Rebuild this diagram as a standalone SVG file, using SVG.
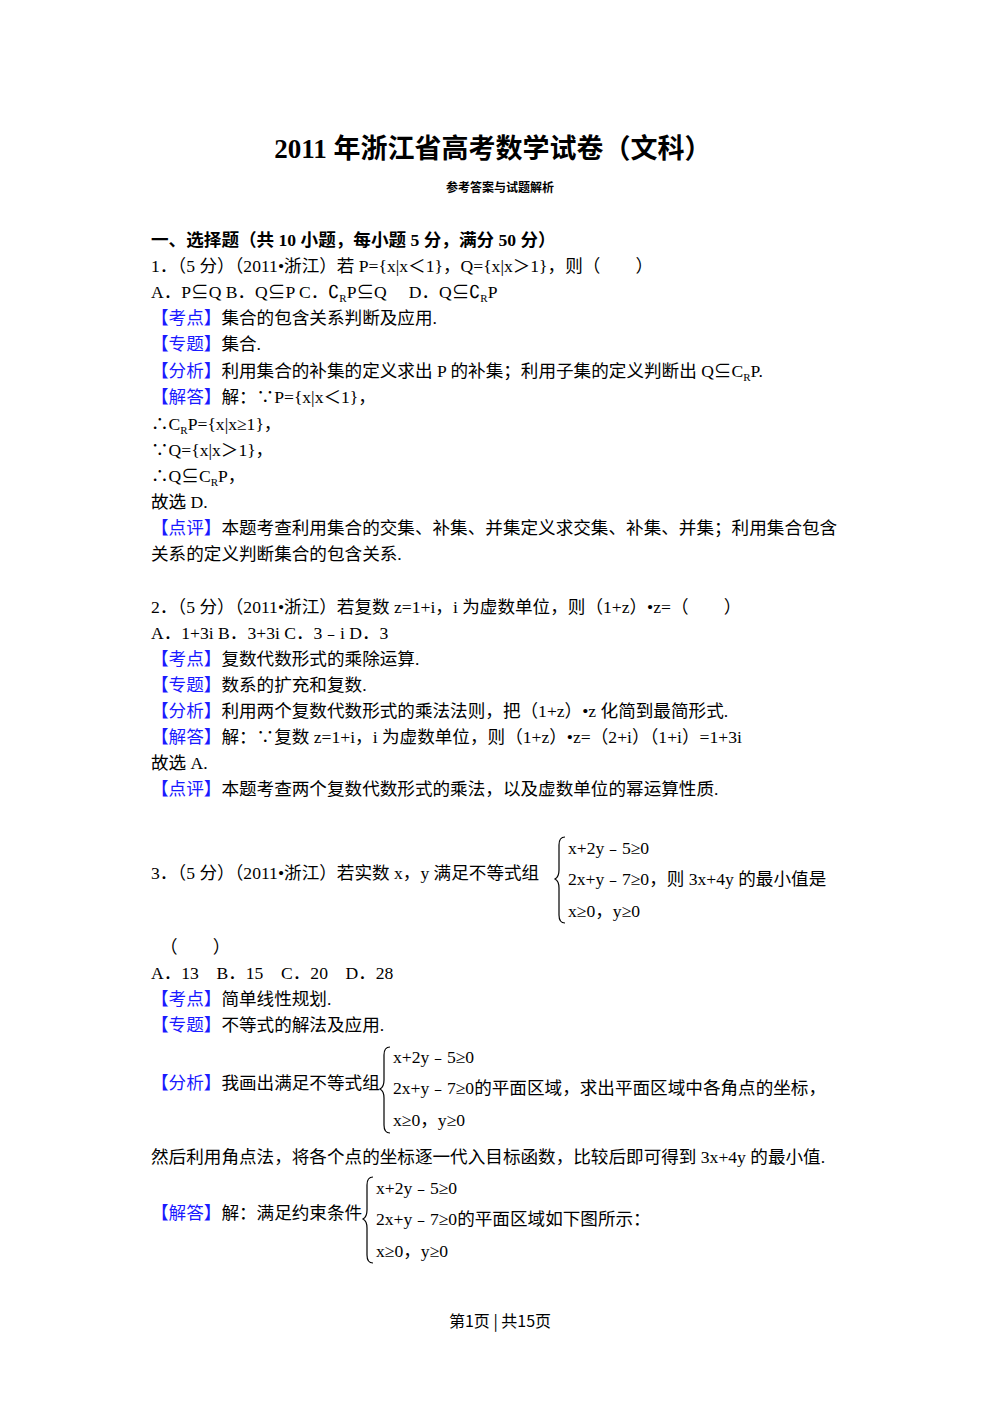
<svg xmlns="http://www.w3.org/2000/svg" width="1000" height="1414" viewBox="0 0 1000 1414">
<style>
text{font-family:"Liberation Serif","Noto Sans CJK SC",serif;font-size:17.6px;fill:#000}
.b{fill:#1a1aff}
.t{font-size:27px;font-weight:bold}
.st{font-size:12px;font-weight:bold}
.h{font-weight:bold}
.br{fill:none;stroke:#000;stroke-width:1.2}
</style>
<rect width="1000" height="1414" fill="#fff"/>
<text class="t" x="493" y="158" text-anchor="middle">2011 年浙江省高考数学试卷（文科）</text>
<text class="st" x="500" y="192" text-anchor="middle">参考答案与试题解析</text>
<text class="h" x="151" y="246">一、选择题（共 10 小题，每小题 5 分，满分 50 分）</text>
<text x="151" y="272">1．（5 分）（2011•浙江）若 P={x|x＜1}，Q={x|x＞1}，则（　　）</text>
<text x="151" y="298">A．P⊆Q B．Q⊆P C．∁<tspan font-size="11" dy="4">R</tspan><tspan dy="-4">P⊆Q　 D．Q⊆∁</tspan><tspan font-size="11" dy="4">R</tspan><tspan dy="-4">P</tspan></text>
<text x="151" y="324"><tspan class="b">【考点】</tspan>集合的包含关系判断及应用.</text>
<text x="151" y="350"><tspan class="b">【专题】</tspan>集合.</text>
<text x="151" y="377"><tspan class="b">【分析】</tspan>利用集合的补集的定义求出 P 的补集；利用子集的定义判断出 Q⊆C<tspan font-size="11" dy="4">R</tspan><tspan dy="-4">P.</tspan></text>
<text x="151" y="403"><tspan class="b">【解答】</tspan>解：∵P={x|x＜1}，</text>
<text x="151" y="430">∴C<tspan font-size="11" dy="4">R</tspan><tspan dy="-4">P={x|x≥1}，</tspan></text>
<text x="151" y="456">∵Q={x|x＞1}，</text>
<text x="151" y="482">∴Q⊆C<tspan font-size="11" dy="4">R</tspan><tspan dy="-4">P，</tspan></text>
<text x="151" y="508">故选 D.</text>
<text x="151" y="534"><tspan class="b">【点评】</tspan>本题考查利用集合的交集、补集、并集定义求交集、补集、并集；利用集合包含</text>
<text x="151" y="560">关系的定义判断集合的包含关系.</text>
<text x="151" y="613">2．（5 分）（2011•浙江）若复数 z=1+i，i 为虚数单位，则（1+z）•z=（　　）</text>
<text x="151" y="639">A．1+3i B．3+3i C．3﹣i D．3</text>
<text x="151" y="665"><tspan class="b">【考点】</tspan>复数代数形式的乘除运算.</text>
<text x="151" y="691"><tspan class="b">【专题】</tspan>数系的扩充和复数.</text>
<text x="151" y="717"><tspan class="b">【分析】</tspan>利用两个复数代数形式的乘法法则，把（1+z）•z 化简到最简形式.</text>
<text x="151" y="743"><tspan class="b">【解答】</tspan>解：∵复数 z=1+i，i 为虚数单位，则（1+z）•z=（2+i）（1+i）=1+3i</text>
<text x="151" y="769">故选 A.</text>
<text x="151" y="795"><tspan class="b">【点评】</tspan>本题考查两个复数代数形式的乘法，以及虚数单位的幂运算性质.</text>
<text x="151" y="879">3．（5 分）（2011•浙江）若实数 x，y 满足不等式组</text>
<path class="br" d="M565,837 Q559,837 559,845 L559,870 Q559,877 555,879 Q559,881 559,888 L559,915 Q559,923 565,923"/>
<text x="568" y="854">x+2y﹣5≥0</text>
<text x="568" y="885">2x+y﹣7≥0，则 3x+4y 的最小值是</text>
<text x="568" y="917">x≥0，y≥0</text>
<text x="160" y="953">（　　）</text>
<text x="151" y="979">A．13　B．15　C．20　D．28</text>
<text x="151" y="1005"><tspan class="b">【考点】</tspan>简单线性规划.</text>
<text x="151" y="1031"><tspan class="b">【专题】</tspan>不等式的解法及应用.</text>
<text x="151" y="1089"><tspan class="b">【分析】</tspan>我画出满足不等式组</text>
<path class="br" d="M390,1047 Q384,1047 384,1055 L384,1080 Q384,1087 380,1089 Q384,1091 384,1098 L384,1125 Q384,1133 390,1133"/>
<text x="393" y="1063">x+2y﹣5≥0</text>
<text x="393" y="1094">2x+y﹣7≥0的平面区域，求出平面区域中各角点的坐标，</text>
<text x="393" y="1126">x≥0，y≥0</text>
<text x="151" y="1163">然后利用角点法，将各个点的坐标逐一代入目标函数，比较后即可得到 3x+4y 的最小值.</text>
<text x="151" y="1219"><tspan class="b">【解答】</tspan>解：满足约束条件</text>
<path class="br" d="M373,1177 Q367,1177 367,1185 L367,1210 Q367,1217 363,1219 Q367,1221 367,1228 L367,1255 Q367,1263 373,1263"/>
<text x="376" y="1194">x+2y﹣5≥0</text>
<text x="376" y="1225">2x+y﹣7≥0的平面区域如下图所示：</text>
<text x="376" y="1257">x≥0，y≥0</text>
<text x="500" y="1327" text-anchor="middle" style="font-family:'Noto Sans CJK SC',sans-serif;font-size:16px">第1页 | 共15页</text>
</svg>
